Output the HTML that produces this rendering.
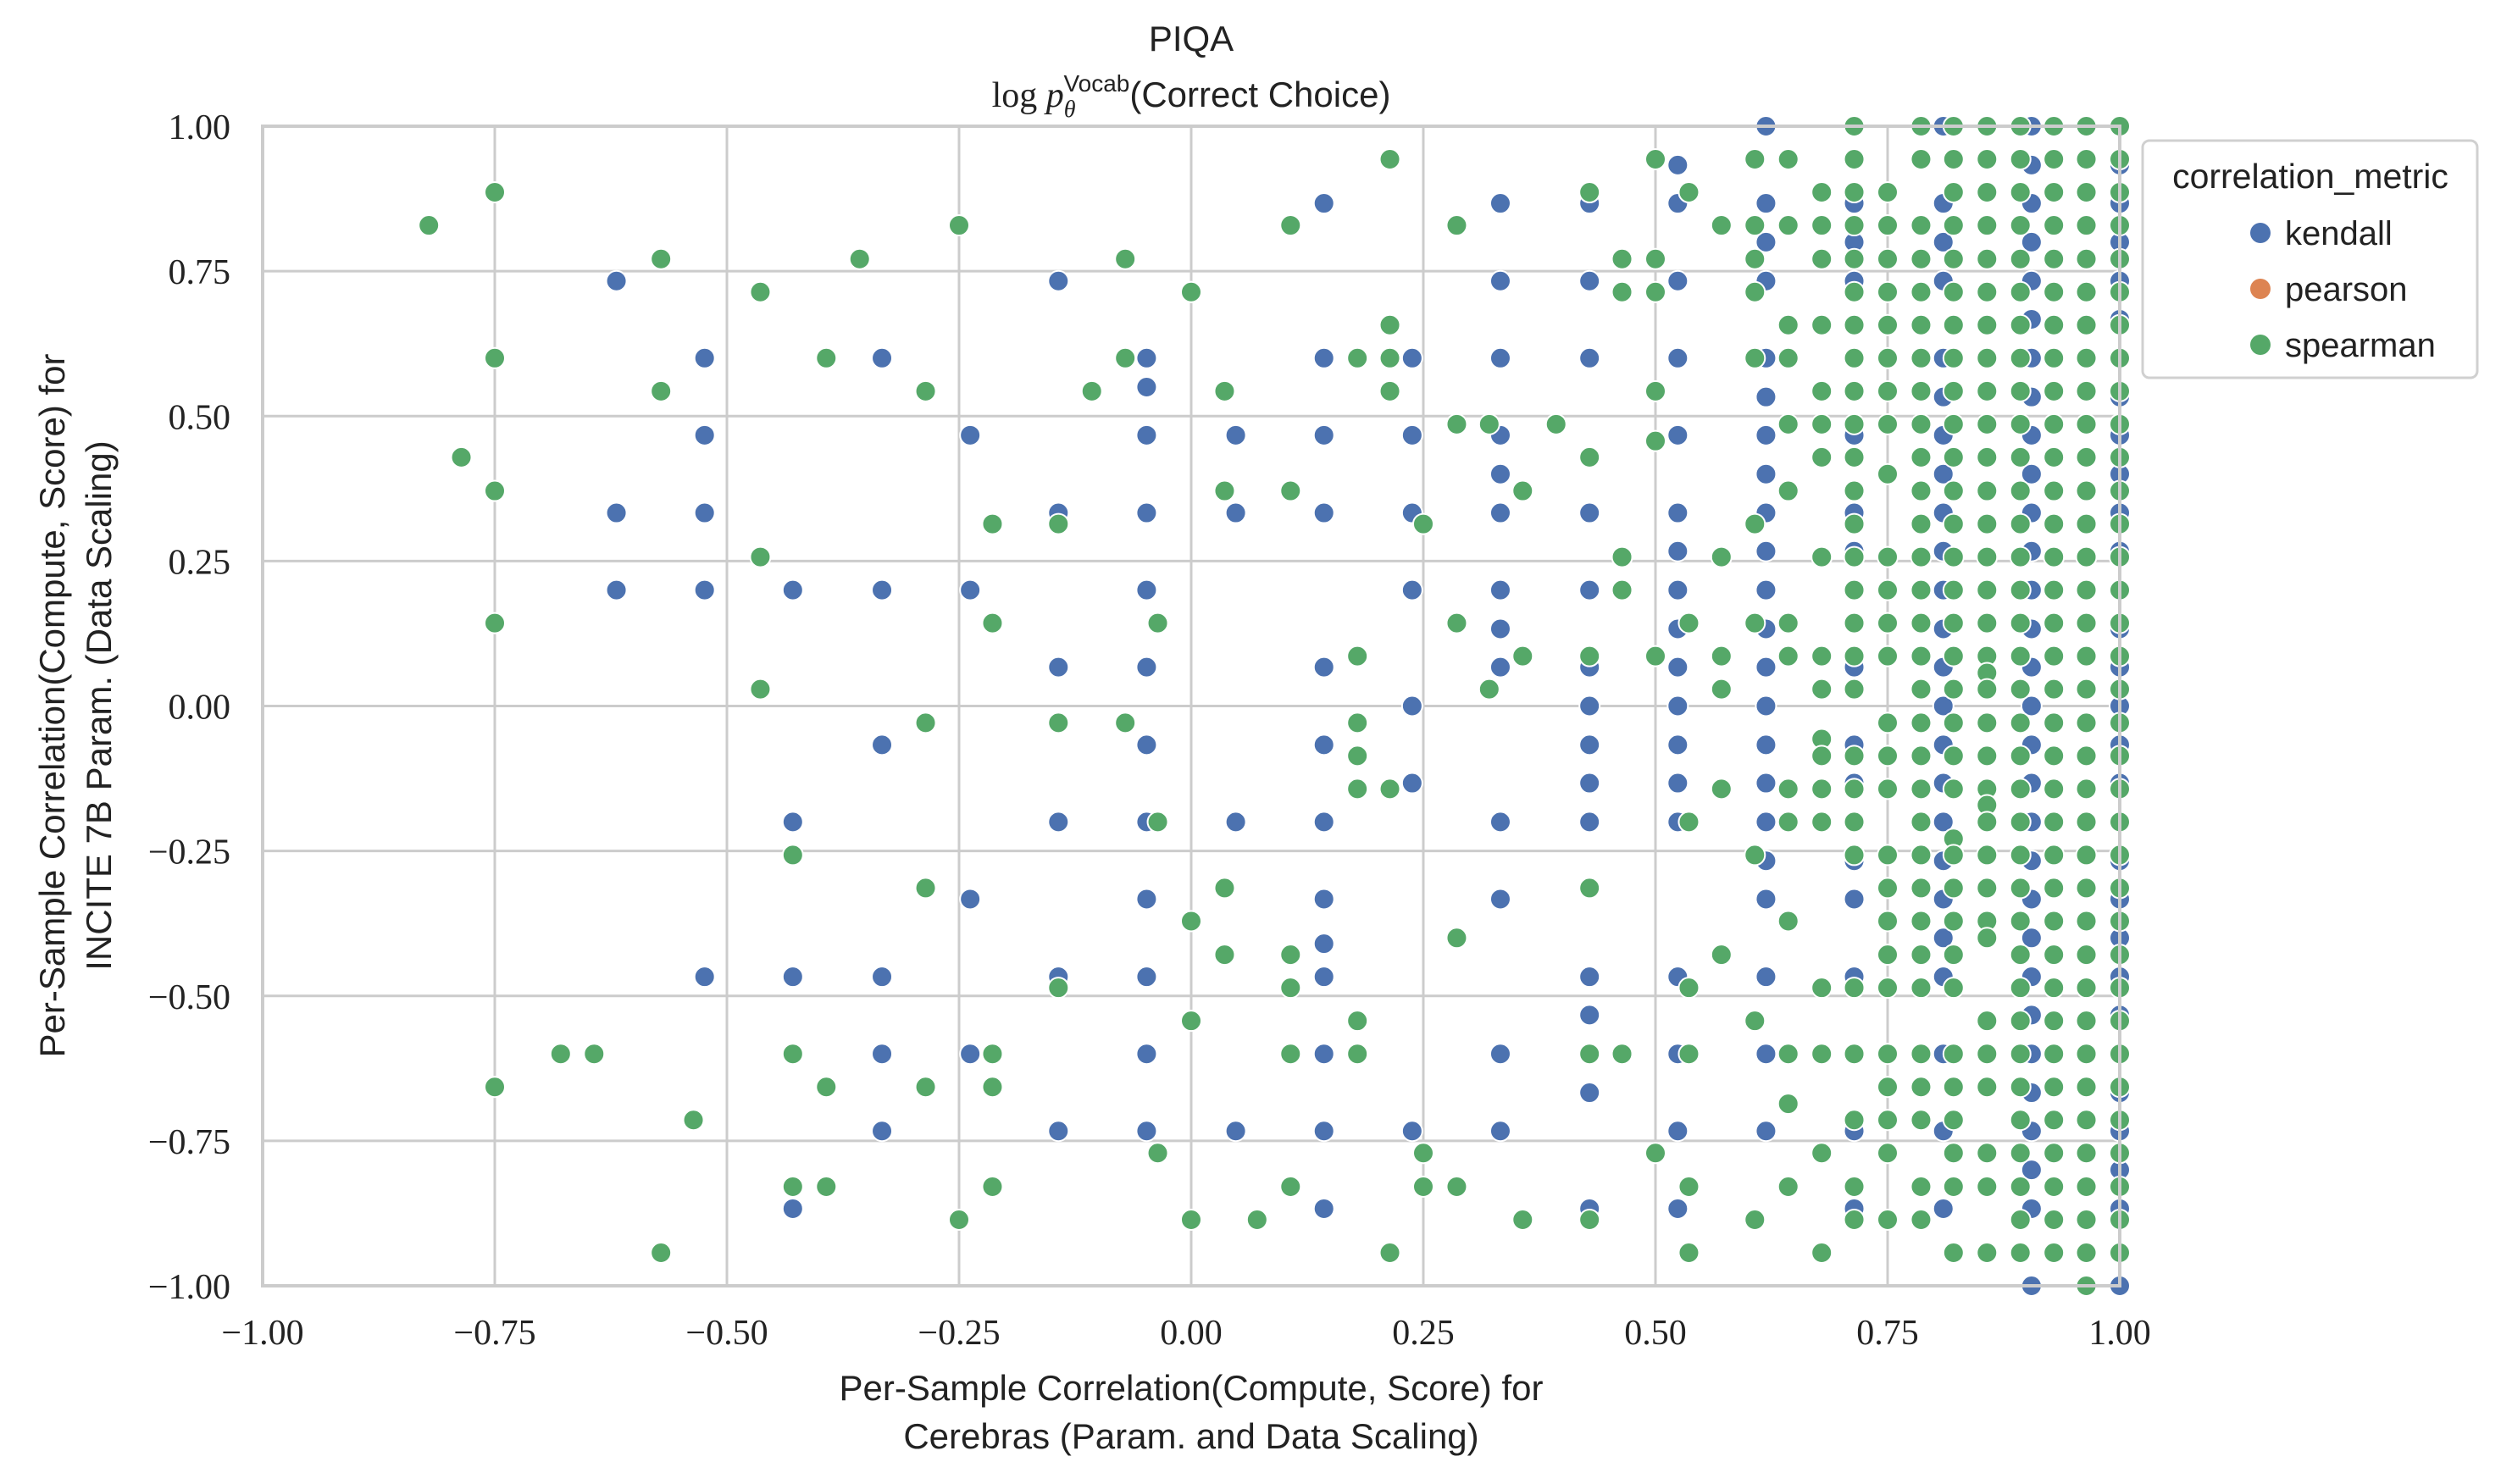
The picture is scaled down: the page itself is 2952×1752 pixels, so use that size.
<!DOCTYPE html>
<html>
<head>
<meta charset="utf-8">
<style>
  html, body { margin: 0; padding: 0; background: #ffffff; }
  body { width: 2952px; height: 1752px; overflow: hidden; }
  svg { display: block; }
</style>
</head>
<body>
<svg id="chart" width="2952" height="1752" viewBox="0 0 2952 1752" xmlns="http://www.w3.org/2000/svg">
  <rect x="0" y="0" width="2952" height="1752" fill="#ffffff"/>
  <g id="grid"></g>
  <g id="points"></g>
  <rect x="310" y="149" width="2192" height="1369" fill="none" stroke="#cccccc" stroke-width="4"/>
  <g id="ticks"></g>

  <text x="1406" y="60" text-anchor="middle" font-family="Liberation Sans, sans-serif" font-size="42" fill="#222">PIQA</text>
  <text x="1406" y="126" text-anchor="middle" font-size="42" fill="#222"><tspan font-family="Liberation Serif, serif">log </tspan><tspan font-family="Liberation Serif, serif" font-style="italic">p</tspan><tspan font-family="Liberation Serif, serif" font-style="italic" font-size="28" dy="12">θ</tspan><tspan font-family="Liberation Sans, sans-serif" font-size="28" dy="-30" dx="-14">Vocab</tspan><tspan font-family="Liberation Sans, sans-serif" dy="18">(Correct Choice)</tspan></text>

  <text x="1406" y="1653" text-anchor="middle" font-family="Liberation Sans, sans-serif" font-size="42" fill="#222"><tspan x="1406" y="1653">Per-Sample Correlation(Compute, Score) for</tspan><tspan x="1406" y="1710">Cerebras (Param. and Data Scaling)</tspan></text>

  <text transform="translate(62,833) rotate(-90)" text-anchor="middle" font-family="Liberation Sans, sans-serif" font-size="42" fill="#222"><tspan x="0" y="14">Per-Sample Correlation(Compute, Score) for</tspan><tspan x="0" y="69">INCITE 7B Param. (Data Scaling)</tspan></text>

  <g>
    <rect x="2529" y="166" width="395" height="280" rx="8" fill="#ffffff" stroke="#d0d0d0" stroke-width="3"/>
    <text x="2727" y="222" text-anchor="middle" font-family="Liberation Sans, sans-serif" font-size="41" fill="#222">correlation_metric</text>
    <g>
      <circle cx="2668" cy="275" r="12" fill="#4C72B0"/>
      <text x="2697" y="289" font-family="Liberation Sans, sans-serif" font-size="40" fill="#222">kendall</text>
    </g>
    <g>
      <circle cx="2668" cy="341" r="12" fill="#DD8452"/>
      <text x="2697" y="355" font-family="Liberation Sans, sans-serif" font-size="40" fill="#222">pearson</text>
    </g>
    <g>
      <circle cx="2668" cy="407" r="12" fill="#55A868"/>
      <text x="2697" y="421" font-family="Liberation Sans, sans-serif" font-size="40" fill="#222">spearman</text>
    </g>
  </g>
</svg>
<script>
// ---- data ----
const xTicks = [-1.0, -0.75, -0.5, -0.25, 0.0, 0.25, 0.5, 0.75, 1.0];
const yTicks = [-1.0, -0.75, -0.5, -0.25, 0.0, 0.25, 0.5, 0.75, 1.0];
const tickLabels = ["\u22121.00", "\u22120.75", "\u22120.50", "\u22120.25", "0.00", "0.25", "0.50", "0.75", "1.00"];

const kendallCols = [-0.619, -0.524, -0.429, -0.333, -0.238, -0.143, -0.048, 0.048, 0.143, 0.238, 0.333, 0.429, 0.524, 0.619, 0.714, 0.810, 0.905, 1.0];
const kendallYs = [
  [0.733, 0.333, 0.2],
  [0.6, 0.467, 0.333, 0.2, -0.467],
  [0.2, -0.2, -0.467, -0.867],
  [0.6, 0.2, -0.067, -0.467, -0.6, -0.733],
  [0.467, 0.2, -0.333, -0.6],
  [0.733, 0.333, 0.067, -0.2, -0.467, -0.733],
  [0.6, 0.55, 0.467, 0.333, 0.2, 0.067, -0.067, -0.2, -0.333, -0.467, -0.6, -0.733],
  [0.467, 0.333, -0.2, -0.733],
  [0.867, 0.6, 0.467, 0.333, 0.067, -0.067, -0.2, -0.333, -0.41, -0.467, -0.6, -0.733, -0.867],
  [0.6, 0.467, 0.333, 0.2, 0.0, -0.133, -0.733],
  [0.867, 0.733, 0.6, 0.467, 0.4, 0.333, 0.2, 0.133, 0.067, -0.2, -0.333, -0.6, -0.733],
  [0.867, 0.733, 0.6, 0.333, 0.2, 0.067, 0.0, -0.067, -0.133, -0.2, -0.467, -0.533, -0.6, -0.667, -0.867],
  [0.933, 0.867, 0.733, 0.6, 0.467, 0.333, 0.267, 0.2, 0.133, 0.067, 0.0, -0.067, -0.133, -0.2, -0.467, -0.6, -0.733, -0.867],
  [1.0, 0.867, 0.8, 0.733, 0.6, 0.533, 0.467, 0.4, 0.333, 0.267, 0.2, 0.133, 0.067, 0.0, -0.067, -0.133, -0.2, -0.267, -0.333, -0.467, -0.6, -0.733],
  [1.0, 0.867, 0.8, 0.733, 0.6, 0.467, 0.333, 0.267, 0.2, 0.067, -0.067, -0.133, -0.2, -0.267, -0.333, -0.467, -0.6, -0.733, -0.867],
  [1.0, 0.867, 0.8, 0.733, 0.6, 0.533, 0.467, 0.4, 0.333, 0.267, 0.2, 0.133, 0.067, 0.0, -0.067, -0.133, -0.2, -0.267, -0.333, -0.4, -0.467, -0.6, -0.733, -0.867],
  [1.0, 0.933, 0.867, 0.8, 0.733, 0.667, 0.6, 0.533, 0.467, 0.4, 0.333, 0.267, 0.2, 0.133, 0.067, 0.0, -0.067, -0.133, -0.2, -0.267, -0.333, -0.4, -0.467, -0.533, -0.6, -0.667, -0.733, -0.8, -0.867, -1.0],
  [1.0, 0.933, 0.867, 0.8, 0.733, 0.667, 0.6, 0.533, 0.467, 0.4, 0.333, 0.267, 0.2, 0.133, 0.067, 0.0, -0.067, -0.133, -0.2, -0.267, -0.333, -0.4, -0.467, -0.533, -0.6, -0.667, -0.733, -0.8, -0.867, -1.0]
];

const spearmanCols = [-0.821, -0.786, -0.75, -0.679, -0.643, -0.571, -0.536, -0.464, -0.429, -0.393, -0.357, -0.286, -0.25, -0.214, -0.143, -0.107, -0.071, -0.036, 0.0, 0.036, 0.071, 0.107, 0.179, 0.214, 0.25, 0.286, 0.321, 0.357, 0.393, 0.429, 0.464, 0.5, 0.536, 0.571, 0.607, 0.643, 0.679, 0.714, 0.75, 0.786, 0.821, 0.857, 0.893, 0.929, 0.964, 1.0];
const spearmanYs = [
  [0.829],
  [0.429],
  [0.886, 0.6, 0.371, 0.143, -0.657],
  [-0.6],
  [-0.6],
  [0.771, 0.543, -0.943],
  [-0.714],
  [0.714, 0.257, 0.029],
  [-0.257, -0.6, -0.829],
  [0.6, -0.657, -0.829],
  [0.771],
  [0.543, -0.029, -0.314, -0.657],
  [0.829, -0.886],
  [0.314, 0.143, -0.6, -0.657, -0.829],
  [0.314, -0.029, -0.486],
  [0.543],
  [0.771, 0.6, -0.029],
  [0.143, -0.2, -0.771],
  [0.714, 0.714, -0.371, -0.543, -0.886],
  [0.543, 0.371, -0.314, -0.429],
  [-0.886],
  [0.829, 0.371, -0.429, -0.486, -0.6, -0.829],
  [0.6, 0.086, -0.029, -0.086, -0.143, -0.543, -0.6],
  [0.943, 0.657, 0.6, 0.543, -0.143, -0.943],
  [0.314, -0.771, -0.829],
  [0.829, 0.486, 0.143, -0.4, -0.829],
  [0.486, 0.029],
  [0.371, 0.086, -0.886],
  [0.486],
  [0.886, 0.429, 0.086, -0.314, -0.6, -0.886],
  [0.771, 0.714, 0.257, 0.2, -0.6],
  [0.943, 0.771, 0.714, 0.543, 0.457, 0.086, -0.771],
  [0.886, 0.143, -0.2, -0.486, -0.6, -0.829, -0.943],
  [0.829, 0.257, 0.086, 0.029, -0.143, -0.429],
  [0.943, 0.829, 0.771, 0.714, 0.6, 0.314, 0.143, -0.257, -0.543, -0.886],
  [0.943, 0.829, 0.657, 0.6, 0.486, 0.371, 0.143, 0.086, -0.143, -0.2, -0.371, -0.6, -0.686, -0.829],
  [0.886, 0.829, 0.771, 0.657, 0.543, 0.486, 0.429, 0.257, 0.086, 0.029, -0.057, -0.086, -0.143, -0.2, -0.486, -0.6, -0.771, -0.943],
  [1.0, 0.943, 0.886, 0.829, 0.771, 0.714, 0.657, 0.6, 0.543, 0.486, 0.429, 0.371, 0.314, 0.257, 0.2, 0.143, 0.086, 0.029, -0.086, -0.143, -0.2, -0.257, -0.486, -0.6, -0.714, -0.829, -0.886],
  [0.886, 0.829, 0.771, 0.714, 0.657, 0.6, 0.543, 0.486, 0.4, 0.257, 0.2, 0.143, 0.086, -0.029, -0.086, -0.143, -0.257, -0.314, -0.371, -0.429, -0.486, -0.6, -0.657, -0.714, -0.771, -0.886],
  [1.0, 0.943, 0.829, 0.771, 0.714, 0.657, 0.6, 0.543, 0.486, 0.429, 0.371, 0.314, 0.257, 0.2, 0.143, 0.086, 0.029, -0.029, -0.086, -0.143, -0.2, -0.257, -0.314, -0.371, -0.429, -0.486, -0.6, -0.657, -0.714, -0.829, -0.886],
  [1.0, 0.943, 0.886, 0.829, 0.771, 0.714, 0.657, 0.6, 0.543, 0.486, 0.429, 0.371, 0.314, 0.257, 0.2, 0.143, 0.086, 0.029, -0.029, -0.086, -0.143, -0.229, -0.257, -0.314, -0.371, -0.429, -0.486, -0.6, -0.657, -0.714, -0.771, -0.829, -0.943],
  [1.0, 0.943, 0.886, 0.829, 0.771, 0.714, 0.657, 0.6, 0.543, 0.486, 0.429, 0.371, 0.314, 0.257, 0.2, 0.143, 0.086, 0.057, 0.029, -0.029, -0.086, -0.143, -0.171, -0.2, -0.257, -0.314, -0.371, -0.4, -0.543, -0.6, -0.657, -0.771, -0.829, -0.943],
  [1.0, 0.943, 0.886, 0.829, 0.771, 0.714, 0.657, 0.6, 0.543, 0.486, 0.429, 0.371, 0.314, 0.257, 0.2, 0.143, 0.086, 0.029, -0.029, -0.086, -0.143, -0.2, -0.257, -0.314, -0.371, -0.429, -0.486, -0.543, -0.6, -0.657, -0.714, -0.771, -0.829, -0.886, -0.943],
  [1.0, 0.943, 0.886, 0.829, 0.771, 0.714, 0.657, 0.6, 0.543, 0.486, 0.429, 0.371, 0.314, 0.257, 0.2, 0.143, 0.086, 0.029, -0.029, -0.086, -0.143, -0.2, -0.257, -0.314, -0.371, -0.429, -0.486, -0.543, -0.6, -0.657, -0.714, -0.771, -0.829, -0.886, -0.943],
  [1.0, 0.943, 0.886, 0.829, 0.771, 0.714, 0.657, 0.6, 0.543, 0.486, 0.429, 0.371, 0.314, 0.257, 0.2, 0.143, 0.086, 0.029, -0.029, -0.086, -0.143, -0.2, -0.257, -0.314, -0.371, -0.429, -0.486, -0.543, -0.6, -0.657, -0.714, -0.771, -0.829, -0.886, -0.943, -1.0],
  [1.0, 0.943, 0.886, 0.829, 0.771, 0.714, 0.657, 0.6, 0.543, 0.486, 0.429, 0.371, 0.314, 0.257, 0.2, 0.143, 0.086, 0.029, -0.029, -0.086, -0.143, -0.2, -0.257, -0.314, -0.371, -0.429, -0.486, -0.543, -0.6, -0.657, -0.714, -0.771, -0.829, -0.886, -0.943]
];

// ---- axes ----
const PL = 310, PR = 2502, PT = 149, PB = 1518;
function xScale(v) { return PL + (v + 1) / 2 * (PR - PL); }
function yScale(v) { return PB - (v + 1) / 2 * (PB - PT); }
const NS = "http://www.w3.org/2000/svg";

const grid = document.getElementById('grid');
const ticks = document.getElementById('ticks');
xTicks.forEach(function (t, i) {
  const l = document.createElementNS(NS, 'line');
  l.setAttribute('x1', xScale(t)); l.setAttribute('x2', xScale(t));
  l.setAttribute('y1', PT); l.setAttribute('y2', PB);
  l.setAttribute('stroke', '#cccccc'); l.setAttribute('stroke-width', '3');
  
  
  grid.appendChild(l);
  const tx = document.createElementNS(NS, 'text');
  tx.setAttribute('x', xScale(t)); tx.setAttribute('y', 1587);
  tx.setAttribute('text-anchor', 'middle');
  tx.setAttribute('font-family', 'Liberation Serif, serif');
  tx.setAttribute('font-size', '42'); tx.setAttribute('fill', '#222');
  tx.textContent = tickLabels[i];
  
  
  ticks.appendChild(tx);
});
yTicks.forEach(function (t, i) {
  const l = document.createElementNS(NS, 'line');
  l.setAttribute('x1', PL); l.setAttribute('x2', PR);
  l.setAttribute('y1', yScale(t)); l.setAttribute('y2', yScale(t));
  l.setAttribute('stroke', '#cccccc'); l.setAttribute('stroke-width', '3');
  
  
  grid.appendChild(l);
  const tx = document.createElementNS(NS, 'text');
  tx.setAttribute('x', 272); tx.setAttribute('y', yScale(t) + 15);
  tx.setAttribute('text-anchor', 'end');
  tx.setAttribute('font-family', 'Liberation Serif, serif');
  tx.setAttribute('font-size', '42'); tx.setAttribute('fill', '#222');
  tx.textContent = tickLabels[i];
  
  
  ticks.appendChild(tx);
});

// ---- points ----
const pts = document.getElementById('points');
function drawSeries(cols, ys, color, name) {
  cols.forEach(function (xv, ci) {
    ys[ci].forEach(function (yv) {
      const c = document.createElementNS(NS, 'circle');
      c.setAttribute('cx', xScale(xv));
      c.setAttribute('cy', yScale(yv));
      c.setAttribute('r', 12);
      c.setAttribute('fill', color);
      c.setAttribute('stroke', '#ffffff');
      c.setAttribute('stroke-width', '2');
      
      
      pts.appendChild(c);
    });
  });
}
drawSeries(kendallCols, kendallYs, '#4C72B0', 'kendall-point');
drawSeries(spearmanCols, spearmanYs, '#55A868', 'spearman-point');
</script>
</body>
</html>
